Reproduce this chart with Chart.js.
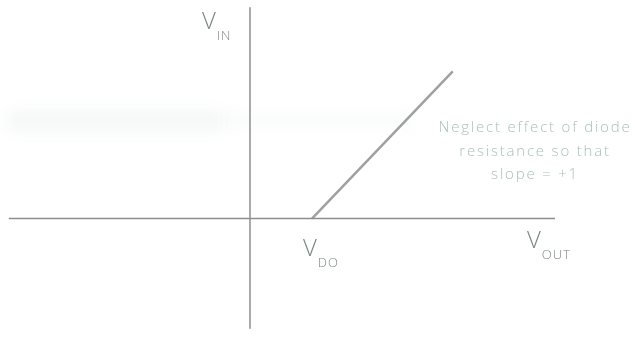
<!DOCTYPE html>
<html lang="en">
<head>
  <meta charset="UTF-8" />
  <title>Diode transfer characteristic</title>
  <script src="https://cdn.jsdelivr.net/npm/chart.js"></script>
  <style>
    html, body { margin: 0; padding: 0; background: #fff; }
    canvas { display: block; }
  </style>
</head>
<body>
  <canvas id="transferChart" width="635" height="356"></canvas>

  <script>
    // axis extents (in volts, origin at 0,0)
    const xAxisRange = [-3.89, 4.92];
    const yAxisRange = [-1.7, 3.26];
    // ideal diode: nothing until V_DO, then slope +1
    const vDO = 1;
    const curveX = [1, 3.27];
    const curveY = [0, 2.27];
    // view window
    const xView = [-4.032, 6.21];
    const yView = [-2.12, 3.37];

    const labels = [
      { main: 'V', sub: 'IN' },
      { main: 'V', sub: 'DO' },
      { main: 'V', sub: 'OUT' }
    ];
    const note = ['Neglect effect of diode', 'resistance so that', 'slope = +1'];

    // faint smudge left over from the scan
    const scanPlugin = {
      id: 'scanPlugin',
      beforeDraw(chart) {
        const ctx = chart.ctx;
        ctx.save();
        ctx.filter = 'blur(7px)';
        ctx.fillStyle = 'rgba(205,218,210,0.2)';
        ctx.fillRect(8, 110, 215, 22);
        ctx.fillStyle = 'rgba(215,225,218,0.12)';
        ctx.fillRect(223, 112, 190, 16);
        ctx.restore();
      }
    };

    const labelPlugin = {
      id: 'labelPlugin',
      afterDraw(chart) {
        const ctx = chart.ctx;
        const sx = chart.scales.x, sy = chart.scales.y;
        const ox = sx.getPixelForValue(0), oy = sy.getPixelForValue(0);
        const place = [
          [ox - 48, sy.getPixelForValue(yAxisRange[1]) + 22],
          [sx.getPixelForValue(vDO) - 9, oy + 37],
          [sx.getPixelForValue(xAxisRange[1]) - 28, oy + 29]
        ];
        ctx.save();
        ctx.fillStyle = '#7b8884';
        ctx.textBaseline = 'alphabetic';
        labels.forEach((l, i) => {
          const [x, y] = place[i];
          ctx.font = '300 24px "Open Sans", "DejaVu Sans", sans-serif';
          ctx.fillText(l.main, x, y);
          const w = ctx.measureText(l.main).width;
          ctx.font = '300 13px "Open Sans", "DejaVu Sans", sans-serif';
          ctx.letterSpacing = '1px';
          ctx.fillText(l.sub, x + w + 1, y + 11);
          ctx.letterSpacing = '0px';
        });
        ctx.fillStyle = '#aabfb8';
        ctx.textAlign = 'center';
        ctx.font = '300 15px "Open Sans", "DejaVu Sans", sans-serif';
        ctx.letterSpacing = '1.8px';
        note.forEach((t, i) => ctx.fillText(t, 535, 132 + i * 23.5));
        ctx.restore();
      }
    };

    new Chart(document.getElementById('transferChart'), {
      type: 'scatter',
      data: {
        datasets: [
          {
            data: xAxisRange.map(v => ({ x: v, y: 0 })),
            showLine: true, borderColor: '#8e8e8e', borderWidth: 1.5, pointRadius: 0
          },
          {
            data: yAxisRange.map(v => ({ x: 0, y: v })),
            showLine: true, borderColor: '#8e8e8e', borderWidth: 1.5, pointRadius: 0
          },
          {
            data: curveX.map((v, i) => ({ x: v, y: curveY[i] })),
            showLine: true, borderColor: '#a0a0a0', borderWidth: 2.5, pointRadius: 0
          }
        ]
      },
      options: {
        responsive: false,
        animation: false,
        layout: { padding: 0 },
        plugins: { legend: { display: false }, tooltip: { enabled: false } },
        scales: {
          x: { type: 'linear', display: false, min: xView[0], max: xView[1] },
          y: { type: 'linear', display: false, min: yView[0], max: yView[1] }
        }
      },
      plugins: [scanPlugin, labelPlugin]
    });
  </script>
</body>
</html>
